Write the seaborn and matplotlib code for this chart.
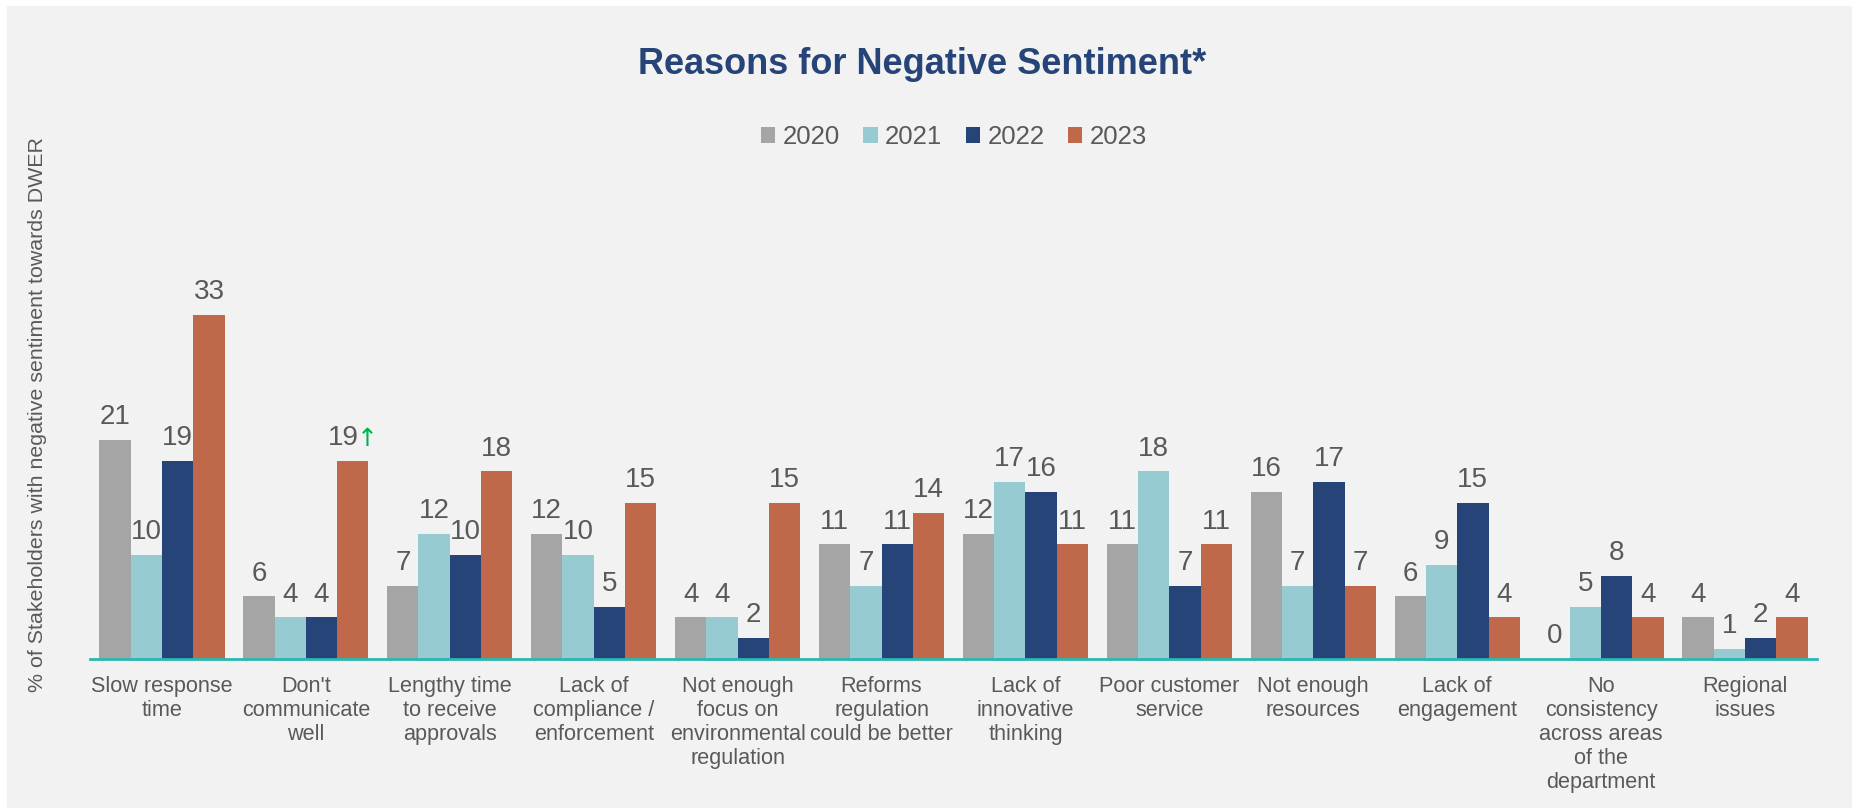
import matplotlib
matplotlib.use("Agg")
import matplotlib.pyplot as plt
import seaborn as sns
import pandas as pd
from matplotlib.patches import Rectangle

categories = [
    "Slow response\ntime", "Don't\ncommunicate\nwell", "Lengthy time\nto receive\napprovals",
    "Lack of\ncompliance /\nenforcement", "Not enough\nfocus on\nenvironmental\nregulation",
    "Reforms\nregulation\ncould be better", "Lack of\ninnovative\nthinking",
    "Poor customer\nservice", "Not enough\nresources", "Lack of\nengagement",
    "No\nconsistency\nacross areas\nof the\ndepartment", "Regional\nissues",
]
years = ["2020", "2021", "2022", "2023"]
v2020 = [21, 6, 7, 12, 4, 11, 12, 11, 16, 6, 0, 4]
v2021 = [10, 4, 12, 10, 4, 7, 17, 18, 7, 9, 5, 1]
v2022 = [19, 4, 10, 5, 2, 11, 16, 7, 17, 15, 8, 2]
v2023 = [33, 19, 18, 15, 15, 14, 11, 11, 7, 4, 4, 4]
colors = ["#a5a5a5", "#96cbd1", "#264478", "#c0694a"]

rows = []
for yr, vals in zip(years, [v2020, v2021, v2022, v2023]):
    for c, v in zip(categories, vals):
        rows.append({"cat": c, "year": yr, "val": v})
df = pd.DataFrame(rows)

sns.set_theme(style="white")
plt.rcParams["font.family"] = ["Liberation Sans", "DejaVu Sans"]

fig = plt.figure(figsize=(18.52, 8.08), dpi=100)
fig.patch.set_facecolor("white")
fig.patches.append(Rectangle((7/1852, 0), 1, 1 - 6/808, transform=fig.transFigure,
                             facecolor="#f2f2f2", edgecolor="none", zorder=-10))
ax = fig.add_axes([90/1852, 1 - 659/808, (1817-90)/1852, 365/808])
ax.set_facecolor("none")

sns.barplot(data=df, x="cat", y="val", hue="year", palette=colors, width=0.87,
            order=categories, hue_order=years, ax=ax, saturation=1, legend=True,
            linewidth=0, gap=0)

txtc = "#595959"
for i, cont in enumerate(ax.containers):
    labels = [f"{v:g}" for v in cont.datavalues]
    if i == 3:
        labels[1] = ""
    ax.bar_label(cont, labels=labels, padding=7, fontsize=20, color=txtc)

bar = ax.containers[3][1]
cx = bar.get_x() + bar.get_width() / 2
h = bar.get_height()
ax.annotate(f"{v2023[1]}", xy=(cx, h), xytext=(4, 7), textcoords="offset points",
            ha="right", va="bottom", fontsize=20, color=txtc)
ax.annotate("\u2191", xy=(cx, h), xytext=(3, 7), textcoords="offset points",
            ha="left", va="bottom", fontsize=18, color="#00b050",
            family=["DejaVu Sans"])

ax.set_ylim(0, 35)
ax.set_xlim(-0.5, 11.5)
ax.set_yticks([])
ax.set_xlabel("")
ax.set_ylabel("")
for s in ["top", "right", "left"]:
    ax.spines[s].set_visible(False)
ax.spines["bottom"].set_color("#2ab7b1")
ax.spines["bottom"].set_linewidth(2)
ax.tick_params(axis="x", length=0, pad=12, labelsize=15.6, labelcolor=txtc)
for t in ax.get_xticklabels():
    t.set_linespacing(1.2)

leg = ax.legend(loc="center", bbox_to_anchor=(954/1852, 1 - 137/808),
                bbox_transform=fig.transFigure, ncol=4, frameon=False,
                fontsize=18.5, handlelength=0.56, handleheight=0.56,
                handletextpad=0.3, columnspacing=0.9)
for t in leg.get_texts():
    t.set_color(txtc)

fig.text(922/1852, 1 - 64/808, "Reasons for Negative Sentiment*", ha="center",
         va="center", fontsize=26, fontweight="bold", color="#264478")
fig.text(38/1852, 1 - 414.5/808, "% of Stakeholders with negative sentiment towards DWER",
         rotation=90, ha="center", va="center", fontsize=15.4, color=txtc)

fig.savefig("out.png", dpi=100, facecolor=fig.get_facecolor())
